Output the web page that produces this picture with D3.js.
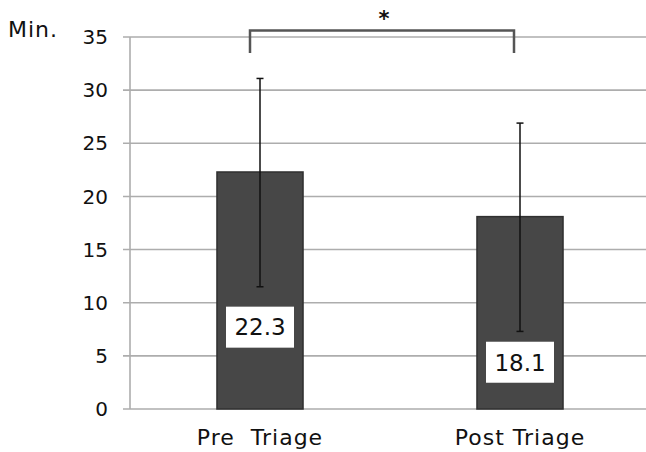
<!DOCTYPE html>
<html>
<head>
<meta charset="utf-8">
<script src="https://cdn.jsdelivr.net/npm/d3@7/dist/d3.min.js"></script>
<style>
  html, body { margin: 0; padding: 0; background: #fff; }
  svg { display: block; }
  text { font-family: "DejaVu Sans", sans-serif; fill: #111; }
</style>
</head>
<body>
<svg id="chart" width="646" height="452"></svg>
<script>
// ---- data ----
const categories = ["Pre  Triage", "Post Triage"];
const means = [22.3, 18.1];
const errUpper = [31.1, 26.9];
const errLower = [11.5, 7.3];
const labelTexts = ["22.3", "18.1"];
const labelAt = [7.7, 4.4];       // value level where each data label box is centred
const yTicks = [0, 5, 10, 15, 20, 25, 30, 35];
const yUnit = "Min.";
const sigMark = "*";
const bracketTop = 35.6, bracketBottom = 33.5;

// ---- layout ----
const svg = d3.select("#chart");
const y = d3.scaleLinear().domain([0, 35]).range([409, 37]);
const x = d3.scaleBand().domain(categories).range([130, 650])
  .paddingInner(0.669).paddingOuter(0.3345);
const cx = c => x(c) + x.bandwidth() / 2;

// gridlines
svg.append("g").selectAll("line").data(yTicks).join("line")
  .attr("x1", 123).attr("x2", 646)
  .attr("y1", d => y(d)).attr("y2", d => y(d))
  .attr("stroke", "#adadad").attr("stroke-width", 1.6);

// y axis line
svg.append("line").attr("x1", 130).attr("x2", 130)
  .attr("y1", y(35)).attr("y2", y(0))
  .attr("stroke", "#adadad").attr("stroke-width", 1.6);

// tick labels
svg.append("g").selectAll("text").data(yTicks).join("text")
  .attr("x", 108).attr("y", d => y(d)).attr("dy", "0.36em")
  .attr("text-anchor", "end").attr("font-size", 20)
  .text(d => d);

svg.append("text").attr("x", 8).attr("y", 37).attr("font-size", 22)
  .attr("letter-spacing", 1).text(yUnit);

// bars
svg.append("g").selectAll("rect").data(means).join("rect")
  .attr("x", (d, i) => x(categories[i]))
  .attr("width", x.bandwidth())
  .attr("y", d => y(d))
  .attr("height", d => y(0) - y(d))
  .attr("fill", "#474747").attr("stroke", "#303030").attr("stroke-width", 1.5);

// error bars
const eb = svg.append("g").attr("stroke", "#111").attr("stroke-width", 1.5);
categories.forEach((c, i) => {
  eb.append("line").attr("x1", cx(c)).attr("x2", cx(c))
    .attr("y1", y(errUpper[i])).attr("y2", y(errLower[i]));
  [errUpper[i], errLower[i]].forEach(v => {
    eb.append("line").attr("x1", cx(c) - 3.5).attr("x2", cx(c) + 3.5)
      .attr("y1", y(v)).attr("y2", y(v));
  });
});

// data label boxes
categories.forEach((c, i) => {
  const g = svg.append("g").attr("transform", `translate(${cx(c)},${y(labelAt[i])})`);
  g.append("rect").attr("x", -34).attr("y", -20.5).attr("width", 68).attr("height", 41)
    .attr("fill", "#fff");
  g.append("text").attr("text-anchor", "middle").attr("dy", "0.36em")
    .attr("font-size", 23).text(labelTexts[i]);
});

// category labels
svg.append("g").selectAll("text").data(categories).join("text")
  .attr("x", d => cx(d)).attr("y", 445)
  .attr("text-anchor", "middle").attr("font-size", 22).attr("letter-spacing", 1)
  .attr("xml:space", "preserve").style("white-space", "pre")
  .text(d => d);

// significance bracket
const bx1 = cx(categories[0]) - 10, bx2 = cx(categories[1]) - 6;
svg.append("path")
  .attr("d", `M${bx1},${y(bracketBottom)}V${y(bracketTop)}H${bx2}V${y(bracketBottom)}`)
  .attr("fill", "none").attr("stroke", "#555").attr("stroke-width", 2.5);
svg.append("text").attr("x", (bx1 + bx2) / 2 + 2).attr("y", 26)
  .attr("text-anchor", "middle").attr("font-size", 21).attr("font-weight", "bold")
  .text(sigMark);
</script>
</body>
</html>
